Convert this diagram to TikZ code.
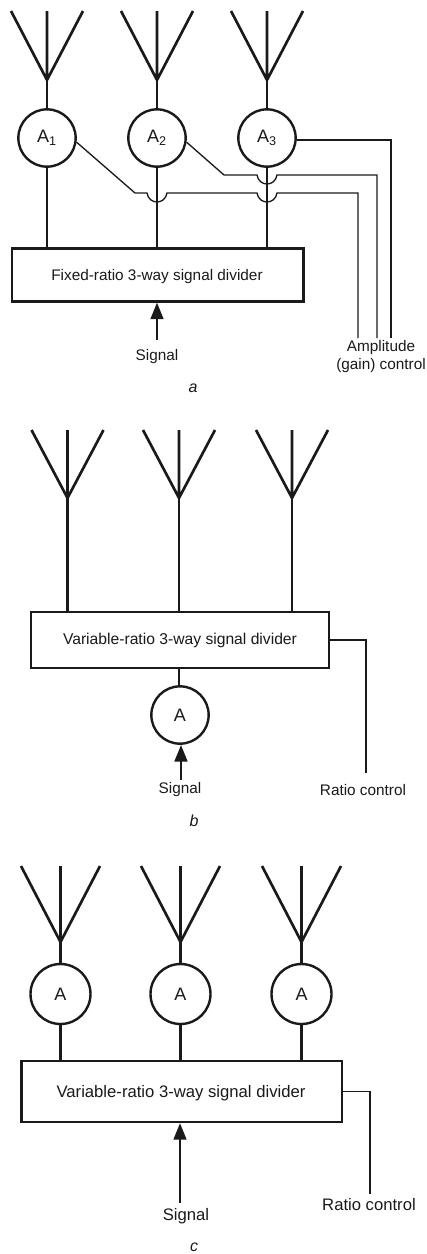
\documentclass[tikz,border=0pt]{standalone}
\usepackage{fontspec}
\setmainfont{Liberation Sans}
\usetikzlibrary{arrows.meta}
\definecolor{ink}{HTML}{1A1A1A}
\tikzset{
  amp/.style={circle,draw=ink,line width=1.8pt,fill=white,inner sep=0pt,minimum size=43pt,text=ink,font=\fontsize{13.5}{15}\selectfont},
  ampc/.style={amp,minimum size=45pt},
  divider/.style={draw=ink,line width=1.8pt,fill=white,inner sep=0pt,text=ink},
  lbl/.style={align=center,text=ink,font=\fontsize{11.5}{13.5}\selectfont},
  lblb/.style={lbl,font=\fontsize{11.75}{13.5}\selectfont},
  lblc/.style={lbl,font=\fontsize{12.5}{14}\selectfont},
  capt/.style={inner sep=0pt,text=ink,font=\fontsize{12}{14}\selectfont\itshape},
  mast/.style={draw=ink,line width=2pt},
  ctl/.style={draw=ink,line width=1pt},
  ar/.style={-{Triangle[length=12.5pt,width=9.5pt]},draw=ink,line width=2pt},
}
\begin{document}
\begin{tikzpicture}[x=.75pt,y=-.75pt]
  \useasboundingbox (0,0) rectangle (426,1254);
  \node[amp] (a1) at (47,138) {A\textsubscript{1}};
  \node[amp] (a2) at (157,138) {A\textsubscript{2}};
  \node[amp] (a3) at (267,138) {A\textsubscript{3}};
  \node[divider,minimum width=218.5pt,minimum height=39.5pt] (diva) at (157.7,275) {};
  \node[lbl] (texta) at (157,277) {Fixed-ratio 3-way signal divider};
  \node[lbl] (siga) at (157,357) {Signal};
  \node[lbl] (ctrla) at (381,357) {Amplitude\\(gain) control};
  \node[capt] (capa) at (193,388) {a};
  \coordinate (sa) at (157,340);
  \coordinate (ca1) at (358,338);
  \coordinate (ca2) at (377,338);
  \coordinate (ca3) at (391,338);
  \foreach \n/\x in {1/47,2/157,3/267} {
    \coordinate (ja\n) at (\x,80);
    \draw[mast,line join=round] (ja\n) -- +(-36,-69) (ja\n) -- +(0,-69) (ja\n) -- +(36,-69);
    \draw[mast] (ja\n) -- (a\n);
    \draw[mast] (a\n) -- (a\n |- diva.north);
  }
  \draw[ar] (sa) -- (sa |- diva.south);
  \draw[ctl] (a1.-8) -- (135,193) -- (147,193) .. controls (149,205) and (165,205) .. (167,193) -- (257,193) .. controls (259,205) and (275,205) .. (277,193) -- (ca1 |- 0,193) -- (ca1);
  \draw[ctl] (a2.-8) -- (224,175) -- (257,175) .. controls (259,187) and (275,187) .. (277,175) -- (ca2 |- 0,175) -- (ca2);
  \draw[ctl] (a3.-4) -- (ca3 |- a3.-4) -- (ca3);

  \node[divider,minimum width=223.5pt,minimum height=42pt] (divb) at (180,640) {};
  \node[lblb] (textb) at (180,640) {Variable-ratio 3-way signal divider};
  \node[amp] (ab) at (180,715) {A};
  \node[lbl] (sigb) at (180,790) {Signal};
  \node[lbl] (ctrlb) at (363,790) {Ratio control};
  \node[capt] (capb) at (194,821) {b};
  \coordinate (sb) at (181,780);
  \coordinate (cb) at (366,773);
  \foreach \n/\x in {1/67.5,2/179,3/292} {
    \coordinate (jb\n) at (\x,498);
    \draw[mast,line join=round] (jb\n) -- +(-36,-68) (jb\n) -- +(0,-68) (jb\n) -- +(36,-68);
    \draw[mast] (jb\n) -- (jb\n |- divb.north);
  }
  \draw[mast] (ab.north -| jb2) -- (divb.south -| jb2);
  \draw[ar] (sb) -- (sb |- ab.south);
  \draw[ctl] (divb.east) -- (cb |- divb.east) -- (cb);

  \node[ampc] (c1) at (60.5,994) {A};
  \node[ampc] (c2) at (180.5,994) {A};
  \node[ampc] (c3) at (301.5,994) {A};
  \node[divider,minimum width=240.5pt,minimum height=45.5pt] (divc) at (181.7,1091.5) {};
  \node[lblc] (textc) at (181,1093) {Variable-ratio 3-way signal divider};
  \node[lblc] (sigc) at (186,1216) {Signal};
  \node[lblc] (ctrlc) at (369,1205) {Ratio control};
  \node[capt] (capc) at (194,1247) {c};
  \coordinate (sc) at (180,1203);
  \coordinate (cc) at (370,1194);
  \foreach \n/\x in {1/60.5,2/180.5,3/301.5} {
    \coordinate (jc\n) at (\x,942);
    \draw[mast,line join=round] (jc\n) -- +(-39.5,-76) (jc\n) -- +(0,-76) (jc\n) -- +(39.5,-76);
    \draw[mast] (jc\n) -- (c\n);
    \draw[mast] (c\n) -- (c\n |- divc.north);
  }
  \draw[ar] (sc) -- (sc |- divc.south);
  \draw[ctl] (divc.east) -- (cc |- divc.east) -- (cc);
\end{tikzpicture}
\end{document}
